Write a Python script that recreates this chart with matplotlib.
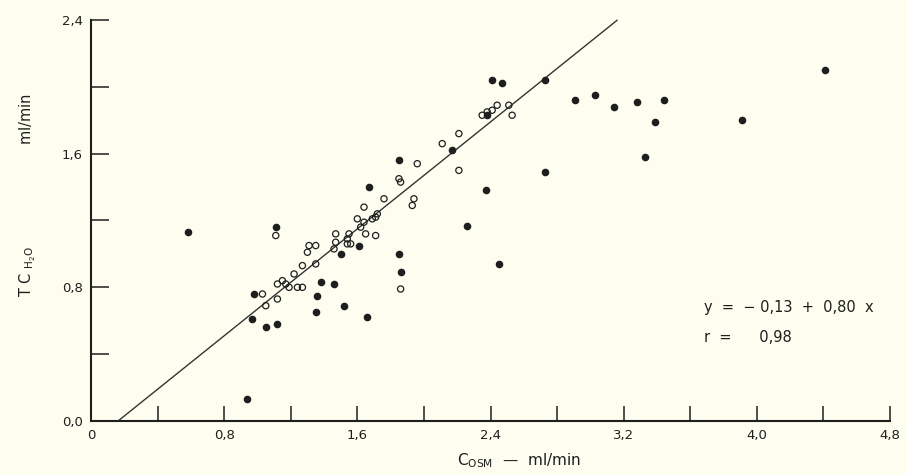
import numpy as np
import matplotlib.pyplot as plt
from matplotlib.ticker import MultipleLocator, FuncFormatter

# puntos rellenos
filled_x = [0.58, 0.94, 1.11, 0.98, 0.97, 1.05, 1.12, 1.38, 1.46, 1.36, 1.35, 1.52,
            1.50, 1.61, 1.67, 1.66, 1.85, 1.86, 1.85, 2.26, 2.37, 2.45, 2.17, 2.41,
            2.47, 2.73, 2.73, 2.91, 3.03, 3.14, 3.28, 3.44, 3.39, 3.33, 3.91, 4.41, 2.38]
filled_y = [1.13, 0.13, 1.16, 0.76, 0.61, 0.56, 0.58, 0.83, 0.82, 0.75, 0.65, 0.69,
            1.00, 1.05, 1.40, 0.62, 1.00, 0.89, 1.56, 1.17, 1.38, 0.94, 1.62, 2.04,
            2.02, 2.04, 1.49, 1.92, 1.95, 1.88, 1.91, 1.92, 1.79, 1.58, 1.80, 2.10, 1.83]

# circulos abiertos
open_x = [1.11, 1.31, 1.35, 1.30, 1.47, 1.47, 1.46, 1.27, 1.35, 1.22, 1.15, 1.12,
          1.17, 1.19, 1.24, 1.27, 1.03, 1.12, 1.05, 1.76, 1.64, 1.72, 1.71, 1.69,
          1.60, 1.64, 1.62, 1.65, 1.71, 1.55, 1.54, 1.56, 1.54, 2.21, 2.11, 1.96,
          2.21, 1.85, 1.86, 1.94, 1.93, 2.35, 2.38, 2.41, 2.44, 2.51, 2.53, 1.86]
open_y = [1.11, 1.05, 1.05, 1.01, 1.12, 1.07, 1.03, 0.93, 0.94, 0.88, 0.84, 0.82,
          0.82, 0.80, 0.80, 0.80, 0.76, 0.73, 0.69, 1.33, 1.28, 1.24, 1.22, 1.21,
          1.21, 1.19, 1.16, 1.12, 1.11, 1.12, 1.09, 1.06, 1.06, 1.72, 1.66, 1.54,
          1.50, 1.45, 1.43, 1.33, 1.29, 1.83, 1.85, 1.86, 1.89, 1.89, 1.83, 0.79]

# recta de regresion y = -0,13 + 0,80 x
a, b = -0.13, 0.80
x_line = np.array([-a / b, 3.16])

bg = '#fdfdf0'
ink = '#1e1e1e'

fig = plt.figure(figsize=(9.07, 4.75), dpi=100, facecolor=bg)
ax = fig.add_axes([91 / 907, 1 - 421 / 475, 799 / 907, 401 / 475])
ax.set_facecolor(bg)

ax.plot(x_line, a + b * x_line, color='#333333', lw=1.0, clip_on=False, zorder=2)
ax.scatter(open_x, open_y, s=20, facecolors='none', edgecolors=ink, linewidths=0.9, zorder=3)
ax.scatter(filled_x, filled_y, s=20, color=ink, zorder=4)

ax.set_xlim(0, 4.8)
ax.set_ylim(0, 2.4)
for s in ['top', 'right']:
    ax.spines[s].set_visible(False)
for s in ['left', 'bottom']:
    ax.spines[s].set_linewidth(1.5)
    ax.spines[s].set_color(ink)

ax.xaxis.set_major_locator(MultipleLocator(0.8))
ax.xaxis.set_minor_locator(MultipleLocator(0.4))
ax.yaxis.set_major_locator(MultipleLocator(0.8))
ax.yaxis.set_minor_locator(MultipleLocator(0.4))

fmt_x = FuncFormatter(lambda v, p: '0' if abs(v) < 1e-9 else f'{v:.1f}'.replace('.', ','))
fmt_y = FuncFormatter(lambda v, p: f'{v:.1f}'.replace('.', ','))
ax.xaxis.set_major_formatter(fmt_x)
ax.yaxis.set_major_formatter(fmt_y)

ax.tick_params(axis='x', which='both', direction='in', length=10.5, width=1.1,
               color=ink, labelsize=9.5, labelcolor=ink, pad=6)
ax.tick_params(axis='y', which='both', direction='in', length=13, width=1.1,
               color=ink, labelsize=9.5, labelcolor=ink, pad=6)

ax.text(3.68, 0.65, 'y  =  \u2212 0,13  +  0,80  x', fontsize=10.5, color=ink)
ax.text(3.68, 0.47, 'r  =      0,98', fontsize=10.5, color=ink)

ax.text(2.57, -0.24, 'C$_{\\mathregular{OSM}}$  \u2014  ml/min', fontsize=11, color=ink,
        ha='center', va='center', clip_on=False)
fig.text(28 / 907, 1 - 195 / 475, 'T C $_{\\mathregular{H_2O}}$' + ' ' * 22 + 'ml/min',
         fontsize=10.5, color=ink, rotation=90, ha='center', va='center')

fig.savefig('out.png', dpi=100, facecolor=bg)
